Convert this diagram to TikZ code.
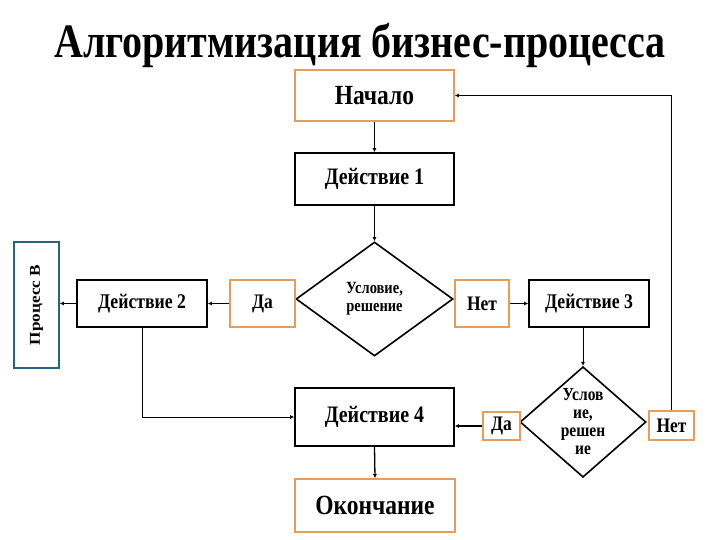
\documentclass[tikz,border=0pt]{standalone}
\usepackage{fontspec}
\usepackage{graphicx}
\setmainfont{Liberation Serif}
\usetikzlibrary{shapes.geometric,arrows.meta}
\definecolor{orangeb}{RGB}{226,158,92}
\definecolor{blueb}{RGB}{40,100,130}
\newcommand{\vsx}[1]{\scalebox{1}[1.18]{#1}}
\tikzset{
  box/.style={draw=black,line width=1.6pt,inner sep=0pt,font=\bfseries},
  obox/.style={draw=orangeb,line width=1.6pt,inner sep=0pt,font=\bfseries},
  dia/.style={draw=black,line width=1.6pt,diamond,inner sep=0pt,align=center,font=\bfseries},
  arr/.style={-{Latex[length=4pt,width=4pt]},line width=1.3pt},
  thinarr/.style={-{Latex[length=4pt,width=4pt]},line width=0.8pt}
}
\begin{document}
\begin{tikzpicture}[x=1pt,y=-1pt]
\useasboundingbox (0,0) rectangle (720,540);
\node[font=\bfseries\fontsize{40}{44}\selectfont,inner sep=0pt] (title) at (360,45) {\scalebox{1}[1.2]{Алгоритмизация бизнес-процесса}};
\node[obox,minimum width=159pt,minimum height=51pt,font=\bfseries\fontsize{23.5}{26}\selectfont] (start) at (374.5,95.5) {\vsx{Начало}};
\node[box,minimum width=159pt,minimum height=52pt,font=\bfseries\fontsize{20}{22}\selectfont] (a1) at (374.5,179) {\vsx{Действие 1}};
\node[dia,minimum width=157pt,minimum height=114pt,font=\bfseries\fontsize{14.5}{18}\selectfont] (d1) at (374.5,299) {\vsx{Условие,}\\\vsx{решение}};
\node[obox,minimum width=65pt,minimum height=47pt,font=\bfseries\fontsize{17.5}{20}\selectfont] (yes1) at (262.5,303.5) {\vsx{Да}};
\node[box,minimum width=130pt,minimum height=47pt,font=\bfseries\fontsize{17.7}{20}\selectfont] (a2) at (142,303.5) {\vsx{Действие 2}};
\node[draw=blueb,line width=1.6pt,inner sep=0pt,minimum width=45pt,minimum height=126pt,font=\bfseries\fontsize{15}{17}\selectfont] (procB) at (36.5,305) {\rotatebox{90}{\scalebox{1.15}[1]{Процесс В}}};
\node[obox,minimum width=54pt,minimum height=47pt,font=\bfseries\fontsize{17.5}{20}\selectfont] (no1) at (482,303.5) {\vsx{Нет}};
\node[box,minimum width=120pt,minimum height=47pt,font=\bfseries\fontsize{17.7}{20}\selectfont] (a3) at (589,303.5) {\vsx{Действие 3}};
\node[dia,minimum width=126pt,minimum height=110pt,font=\bfseries\fontsize{15.5}{18}\selectfont] (d2) at (583,422) {\vsx{Услов}\\\vsx{ие,}\\\vsx{решен}\\\vsx{ие}};
\node[obox,minimum width=37pt,minimum height=28pt,font=\bfseries\fontsize{17.5}{20}\selectfont] (yes2) at (501.5,426) {\vsx{Да}};
\node[obox,minimum width=45pt,minimum height=29pt,font=\bfseries\fontsize{17.5}{20}\selectfont] (no2) at (671.5,425.5) {\vsx{Нет}};
\node[box,minimum width=159pt,minimum height=58pt,font=\bfseries\fontsize{20}{22}\selectfont] (a4) at (374.5,417) {\vsx{Действие 4}};
\node[obox,minimum width=160pt,minimum height=53pt,font=\bfseries\fontsize{23.5}{26}\selectfont] (end) at (375,505.5) {\vsx{Окончание}};
\draw[arr] (start.south) -- (a1.north);
\draw[arr] (a1.south) -- (d1.north);
\draw[arr] (yes1.west) -- (a2.east);
\draw[arr] (a2.west) -- (a2.west -| procB.east);
\draw[arr] (no1.east) -- (a3.west);
\draw[thinarr] (a3.south -| d2.north) -- (d2.north);
\draw[thinarr] (a2.south -| 142,0) |- (a4.west);
\draw[arr] (yes2.west) -- (yes2.west -| a4.east);
\draw[thinarr] (no2.north) |- (start.east);
\draw[arr] (a4.south) -- (end.north);
\end{tikzpicture}
\end{document}
